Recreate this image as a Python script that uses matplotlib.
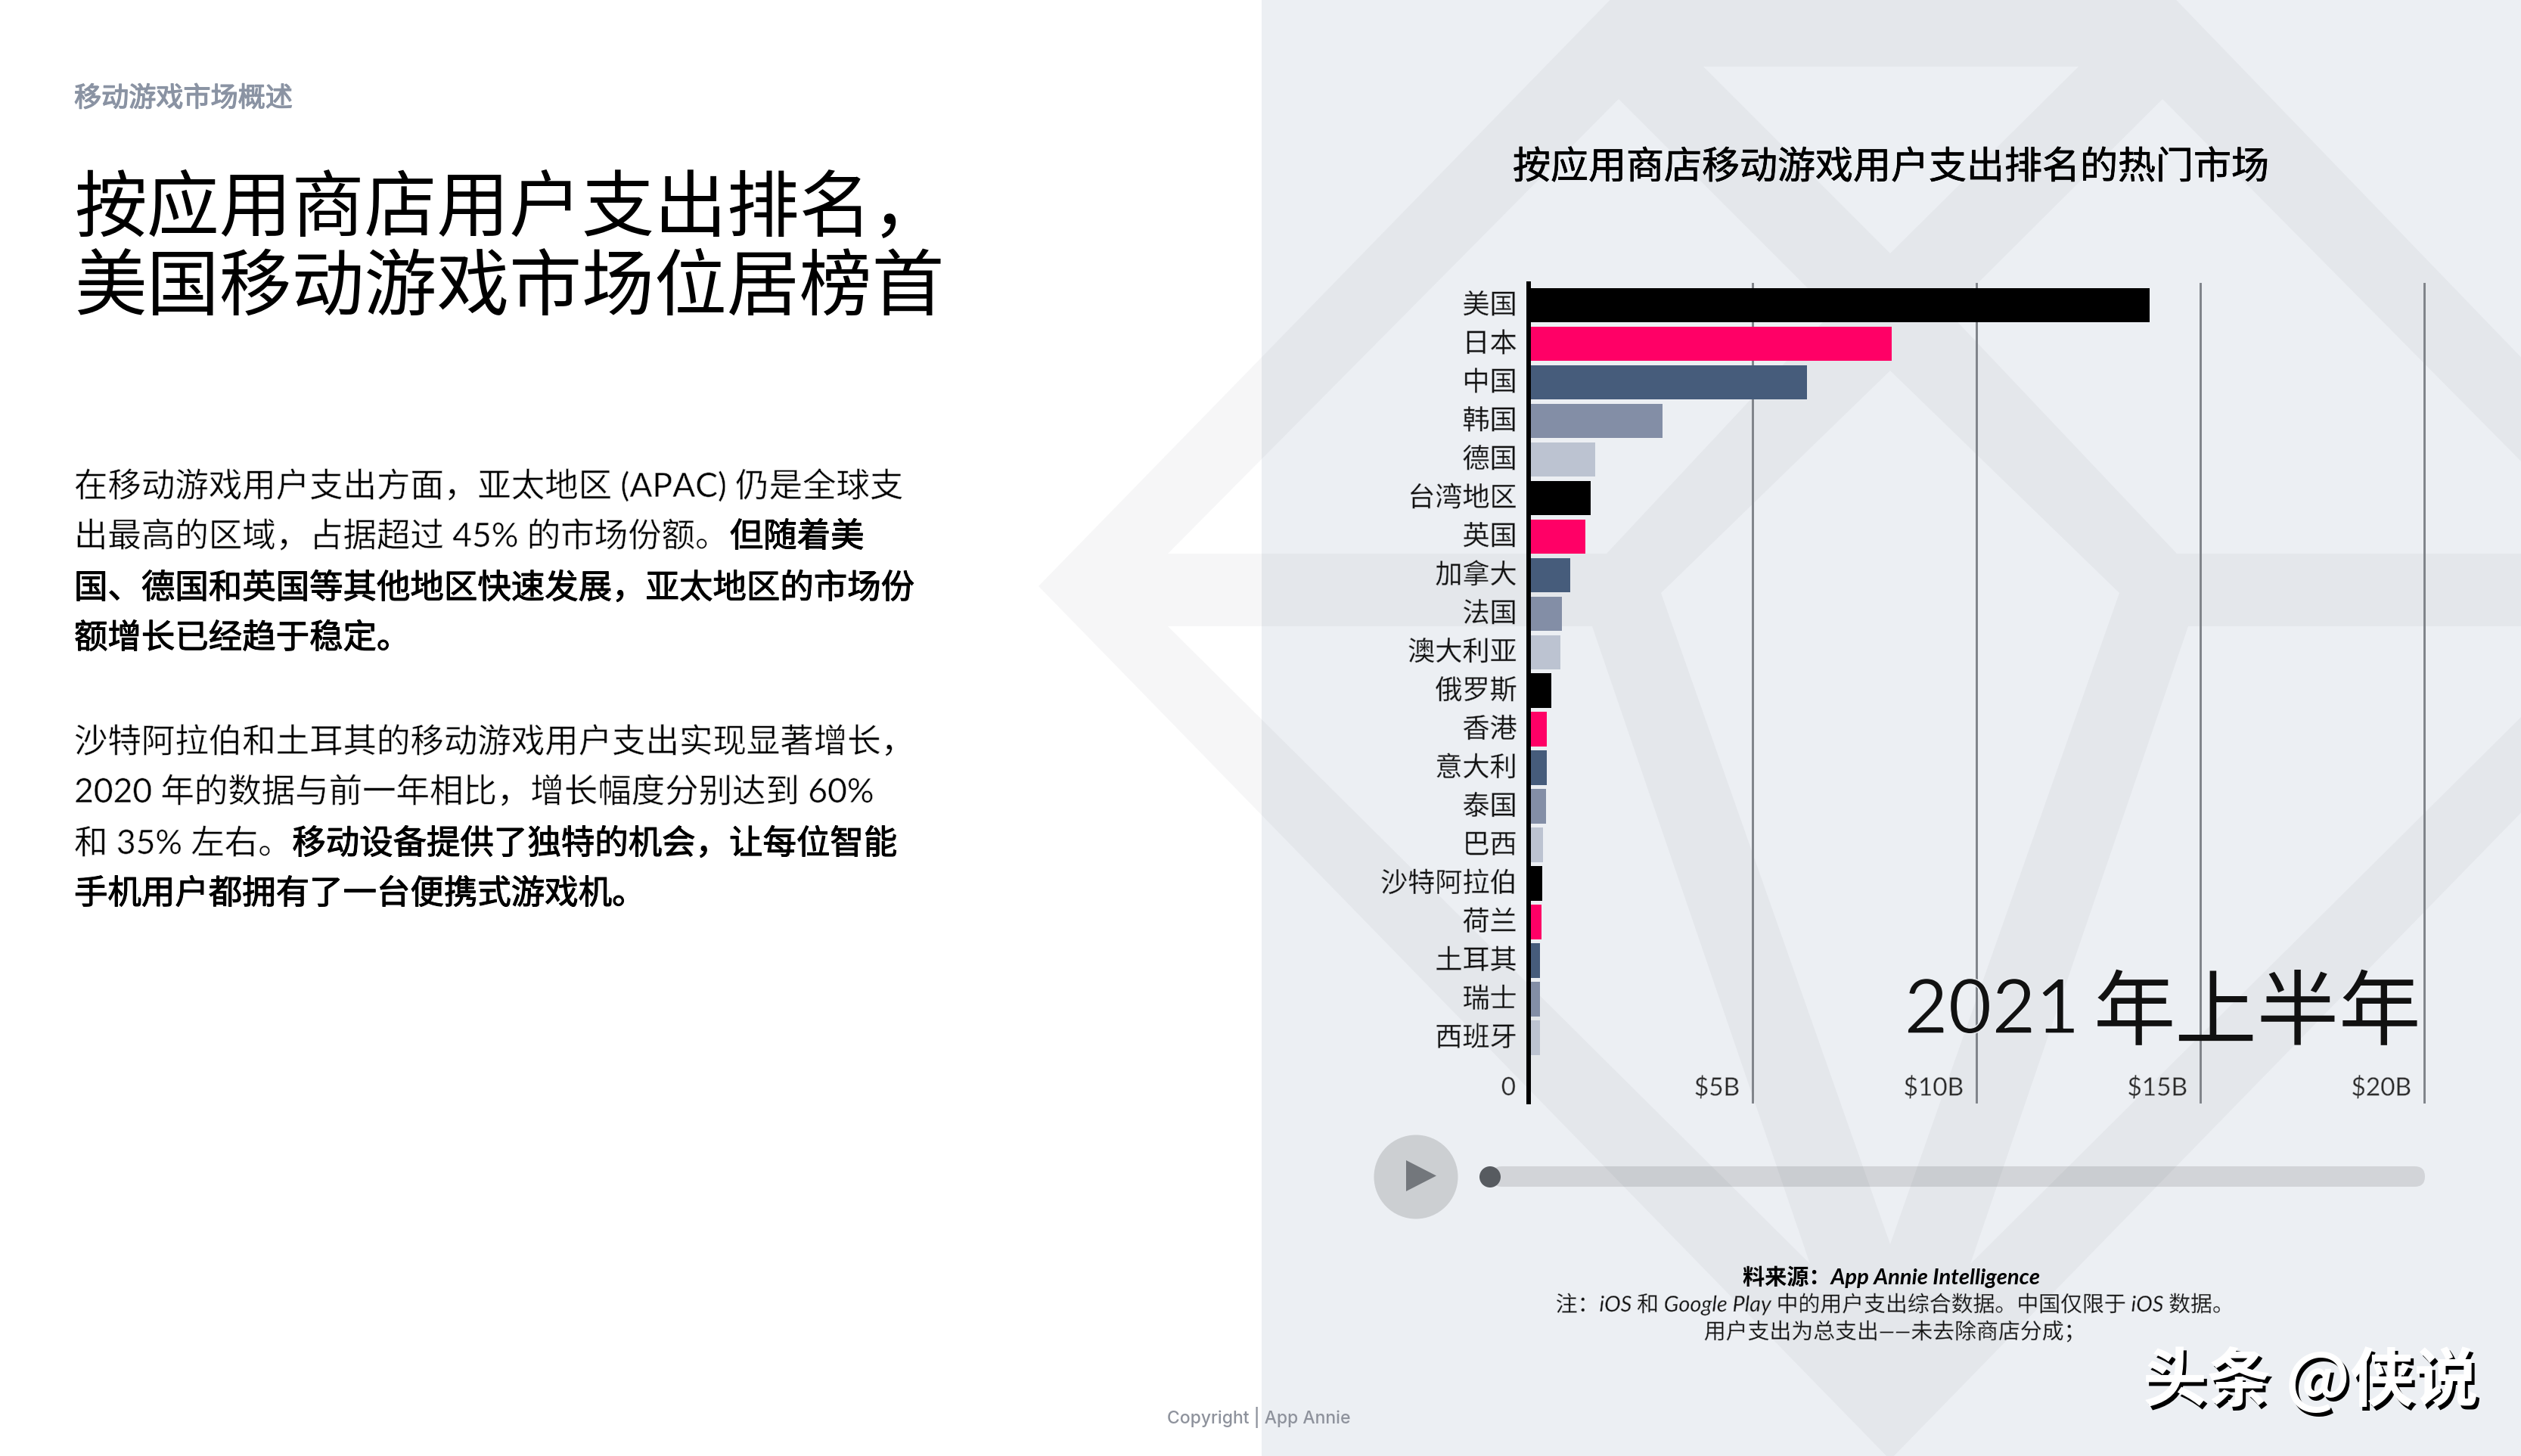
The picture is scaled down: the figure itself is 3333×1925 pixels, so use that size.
import matplotlib
matplotlib.use("Agg")
import matplotlib.pyplot as plt
from matplotlib.path import Path
from matplotlib.patches import PathPatch, Polygon, Circle, FancyBboxPatch
from matplotlib.transforms import ScaledTranslation
import matplotlib.patheffects as pe

# ---------- data ----------
markets = ["美国", "日本", "中国", "韩国", "德国", "台湾地区", "英国", "加拿大", "法国", "澳大利亚",
           "俄罗斯", "香港", "意大利", "泰国", "巴西", "沙特阿拉伯", "荷兰", "土耳其", "瑞士", "西班牙"]
spend_busd = [13.86, 8.10, 6.22, 2.99, 1.49, 1.39, 1.27, 0.93, 0.74, 0.71,
              0.51, 0.41, 0.41, 0.39, 0.32, 0.30, 0.29, 0.25, 0.25, 0.25]
palette = ["#000000", "#FF0066", "#465C7B", "#838EA6", "#BCC3D1"]
tick_values = [0, 5, 10, 15, 20]
tick_labels = ["0", "$5B", "$10B", "$15B", "$20B"]

kicker = "移动游戏市场概述"
headline = ["按应用商店用户支出排名，", "美国移动游戏市场位居榜首"]
para_lines = [
    (640, [("在移动游戏用户支出方面，亚太地区 (APAC) 仍是全球支", "l")]),
    (706, [("出最高的区域，占据超过 45% 的市场份额。", "l"), ("但随着美", "b")]),
    (774, [("国、德国和英国等其他地区快速发展，亚太地区的市场份", "b")]),
    (840, [("额增长已经趋于稳定。", "b")]),
    (978, [("沙特阿拉伯和土耳其的移动游戏用户支出实现显著增长，", "l")]),
    (1044, [("2020 年的数据与前一年相比，增长幅度分别达到 60%", "l")]),
    (1112, [("和 35% 左右。", "l"), ("移动设备提供了独特的机会，让每位智能", "b")]),
    (1178, [("手机用户都拥有了一台便携式游戏机。", "b")]),
]
chart_title = "按应用商店移动游戏用户支出排名的热门市场"
period = "2021 年上半年"
source_lines = ["料来源：App Annie Intelligence",
                "注：iOS 和 Google Play 中的用户支出综合数据。中国仅限于 iOS 数据。",
                "用户支出为总支出——未去除商店分成；"]
copyright_text = "Copyright | App Annie"
watermark = "头条 @侠说"

W, H = 3333, 1925
CJK = "Noto Sans CJK SC"
LATIN = dict(family=["Lato", CJK], weight="normal")
REG = dict(family=[CJK], weight="regular")
PANEL = "#ECEFF3"

fig = plt.figure(figsize=(W / 100, H / 100), dpi=100, facecolor="white")
bg = fig.add_axes([0, 0, 1, 1], zorder=0)
bg.set_xlim(0, W)
bg.set_ylim(H, 0)
bg.axis("off")
renderer = fig.canvas.get_renderer()


def ensure(poly, ccw):
    area = sum(poly[i][0] * poly[(i + 1) % len(poly)][1] - poly[(i + 1) % len(poly)][0] * poly[i][1]
               for i in range(len(poly)))
    return poly if (area > 0) == ccw else poly[::-1]


def thin(lw, under):
    return [pe.Normal(), pe.Stroke(linewidth=lw, foreground=under)]


def heavy(lw, color):
    return [pe.withStroke(linewidth=lw, foreground=color)]


# panel + gem watermark
bg.add_patch(plt.Rectangle((1668, 0), W - 1668, H, color=PANEL, lw=0, zorder=0))
silhouette = [(1373, 775), (2148, -20), (2858, -20), (3625, 775), (2499, 1930)]
holes = [
    [(2252, 88), (2748, 88), (2499, 335)],
    [(1544, 732), (2140, 131), (2422, 413), (2124, 732)],
    [(3454, 732), (2859, 131), (2576, 413), (2878, 732)],
    [(2499, 490), (2802, 784), (2499, 1645), (2196, 784)],
    [(1544, 828), (2105, 828), (2393, 1671)],
    [(3454, 828), (2893, 828), (2605, 1671)],
]
verts, codes = [], []
for i, poly in enumerate([silhouette] + holes):
    p = ensure(poly, i == 0)
    verts += p + [p[0]]
    codes += [Path.MOVETO] + [Path.LINETO] * (len(p) - 1) + [Path.CLOSEPOLY]
bg.add_patch(PathPatch(Path(verts, codes), facecolor="#32283C", alpha=0.04, lw=0, zorder=1))


def base(cy, pt):
    return cy + 0.38 * pt * 100 / 72


def runs(x, cy, segs, pt):
    for text, st in segs:
        effects = thin(0.45, "white") if st == "l" else heavy(0.75, "#000000")
        t = bg.text(x, base(cy, pt), text, fontsize=pt, color="#000000", va="baseline", ha="left", zorder=5,
                    path_effects=effects, **LATIN)
        x += t.get_window_extent(renderer).width


# left column
bg.text(98, base(127, 26), kicker, fontsize=26, color="#8A93A3", va="baseline", zorder=5,
        path_effects=heavy(0.9, "#8A93A3"), **REG)
bg.text(98, base(269, 69), headline[0], fontsize=69, color="#000000", va="baseline", zorder=5, **REG)
bg.text(98, base(372, 69), headline[1], fontsize=69, color="#000000", va="baseline", zorder=5, **REG)
for cy, segs in para_lines:
    runs(98, cy, segs, 32)

# chart title
bg.text(2500, base(217, 36), chart_title, fontsize=36, color="#000000", ha="center", va="baseline", zorder=5,
        path_effects=heavy(0.45, "#000000"), **REG)

# player controls
bg.add_patch(Circle((1872, 1556), 55.5, color="black", alpha=0.135, lw=0, zorder=2))
bg.add_patch(Polygon([(1859, 1534), (1899, 1554.5), (1859, 1575)], color="#73777C", lw=0, zorder=3))
bg.add_patch(FancyBboxPatch((1972, 1542), 3206 - 1972, 27, boxstyle="round,pad=0,rounding_size=13.5",
                            color="black", alpha=0.11, lw=0, zorder=2))
bg.add_patch(Circle((1970, 1556), 14, color="#575B60", lw=0, zorder=3))

# sources
src_y = [1687, 1723, 1759]
src_x = [2501, 2505, 2505]
for i, s in enumerate(source_lines):
    if i == 0:
        bg.text(src_x[i], base(src_y[i], 21), s, fontsize=21, ha="center", va="baseline", color="#000000",
                zorder=5, style="italic", family=["Lato", CJK], weight="bold")
    else:
        bg.text(src_x[i], base(src_y[i], 20.8), s, fontsize=20.8, ha="center", va="baseline", color="#111111",
                zorder=5, style="italic", family=["Lato", CJK], weight="normal", path_effects=thin(0.3, PANEL))

bg.text(1664, 1874, copyright_text, fontsize=16.5, family=["Inter"], weight="medium", color="#8E929C",
        ha="center", va="center", zorder=5)

# watermark
bg.text(2833 + 4, 1852 + 5, watermark, fontsize=61, color="#000000", ha="left", va="baseline", family=[CJK],
        weight="bold", zorder=6)
bg.text(2833, 1852, watermark, fontsize=61, color="white", ha="left", va="baseline", family=[CJK], weight="bold",
        zorder=7)

# ---------- bar chart ----------
x0, x1, y_top, y_bot = 2021, 3205, 375, 1457
ax = fig.add_axes([x0 / W, 1 - y_bot / H, (x1 - x0) / W, (y_bot - y_top) / H], zorder=2)
ax.patch.set_alpha(0)
step = (1372 - 403.5) / 19
ax.set_xlim(0, 20)
ax.set_ylim((y_bot - 403.5) / step, (y_top - 403.5) / step)
ypos = list(range(len(markets)))
colors = [palette[i % len(palette)] for i in ypos]
ax.barh(ypos, spend_busd, height=45.5 / step, color=colors, zorder=3)

ax.set_yticks(ypos, markets, fontsize=26, family=[CJK], color="#111111")
ax.tick_params(axis="y", length=0, pad=11)
up = ScaledTranslation(0, 3 / 100, fig.dpi_scale_trans)
for lab in ax.get_yticklabels():
    lab.set_transform(lab.get_transform() + up)
    lab.set_path_effects(thin(0.3, PANEL))
ax.set_xticks(tick_values, tick_labels, fontsize=24, family=["Lato"], weight="normal", color="#2A2A2A")
ax.tick_params(axis="x", length=0, pad=-13)
shift = ScaledTranslation(-17 / 100, 0, fig.dpi_scale_trans)
for lab in ax.get_xticklabels():
    lab.set_ha("right")
    lab.set_va("center")
    lab.set_transform(lab.get_transform() + shift)
    lab.set_path_effects(thin(0.35, PANEL))
ax.set_axisbelow(True)
ax.grid(axis="x", color="#7F8389", lw=2.1, zorder=1)
for g in ax.get_xgridlines():
    g.set_clip_on(False)
for sp in ["top", "right", "bottom"]:
    ax.spines[sp].set_visible(False)
ax.spines["left"].set_color("black")
ax.spines["left"].set_linewidth(4.3)
ax.spines["left"].set_zorder(4)

# period label: digits and CJK at their own sizes
year_base = 1366
parts = period.split(" ")
t2 = ax.text(0, 0, parts[1], fontsize=78, family=[CJK], weight="regular", color="#111111", ha="right", va="baseline",
             transform=bg.transData, zorder=6)
t2.set_position((3201, year_base + 7))
w2 = t2.get_window_extent(renderer).width
ax.text(3201 - w2 - 18, year_base, parts[0], fontsize=72, family=["Lato"], weight="normal", color="#111111", ha="right",
        va="baseline", transform=bg.transData, zorder=6, path_effects=thin(1.0, PANEL))

fig.savefig("out.png", dpi=100)
